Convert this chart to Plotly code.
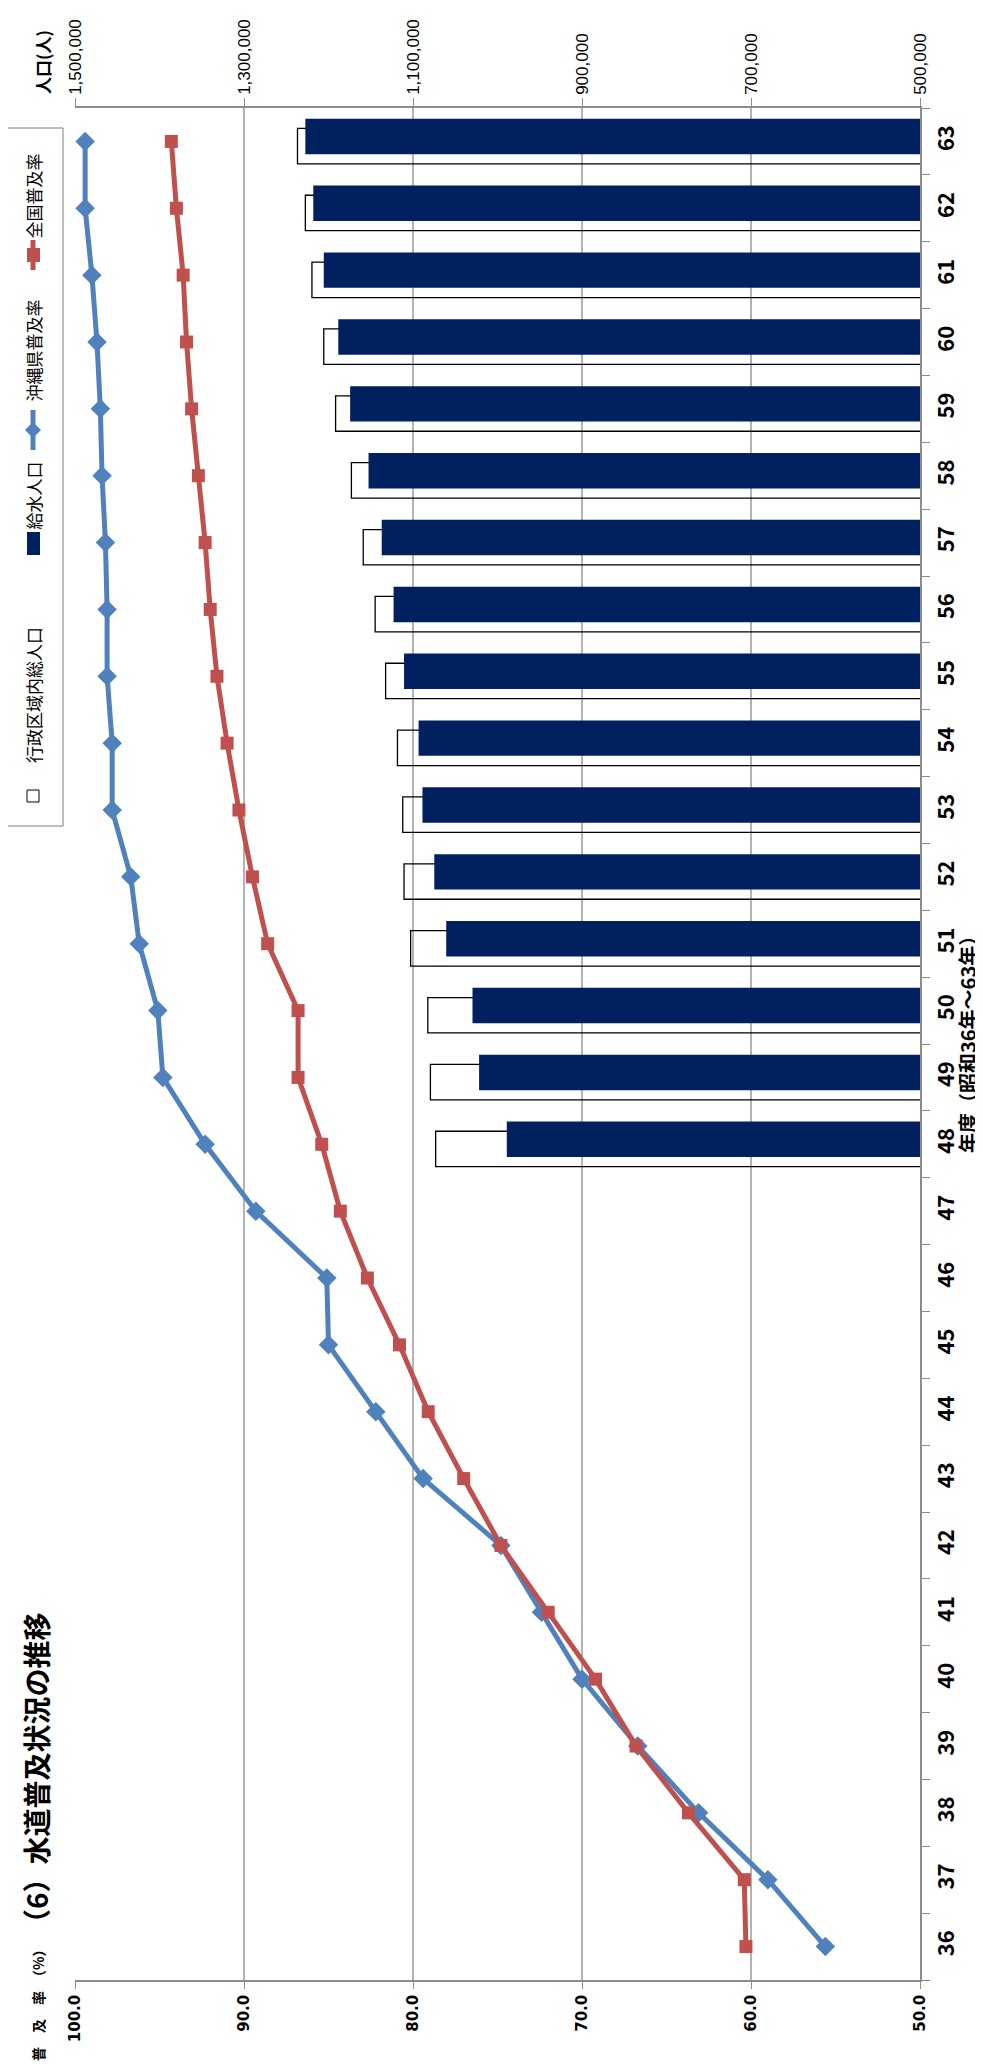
import plotly.graph_objects as go

# ---------------- data ----------------
years = list(range(36, 64))
okinawa_rate = [55.6, 59.0, 63.1, 66.7, 70.0, 72.4, 74.8, 79.4, 82.2, 85.0,
                85.1, 89.3, 92.3, 94.8, 95.1, 96.2, 96.7, 97.8, 97.8, 98.1,
                98.1, 98.2, 98.4, 98.5, 98.7, 99.0, 99.4, 99.4]
national_rate = [60.3, 60.4, 63.7, 66.8, 69.2, 72.0, 74.8, 77.0, 79.1, 80.8,
                 82.7, 84.3, 85.4, 86.8, 86.8, 88.6, 89.5, 90.3, 91.0, 91.6,
                 92.0, 92.3, 92.7, 93.1, 93.4, 93.6, 94.0, 94.3]
pop_years = list(range(48, 64))
served_pop = [989000, 1021800, 1029600, 1060700, 1074800, 1088800, 1093400,
              1110600, 1123000, 1137000, 1152600, 1174400, 1188400, 1205600,
              1218000, 1227400]
total_pop = [1073200, 1079400, 1082500, 1102800, 1110600, 1112100, 1118400,
             1132400, 1144800, 1158900, 1172900, 1191600, 1205600, 1219600,
             1227400, 1236700]
rate_ticks = [100, 90, 80, 70, 60, 50]
pop_ticks = [1500000, 1300000, 1100000, 900000, 700000, 500000]

title_text = "<b>（6）水道普及状況の推移</b>"
year_title = "<b>年度（昭和36年～63年）</b>"
pop_title = "<b>人口(人)</b>"
rate_title = "<b>普　及　率　（%）</b>"
legend_names = ["行政区域内総人口", "給水人口", "沖縄県普及率", "全国普及率"]

BLUE = "#4F81BD"
RED = "#C0504D"
NAVY = "#002060"
GRID = "#B3B3B3"
AXIS = "#8C8C8C"
JP = "Noto Sans CJK JP"

# page geometry (the html body has an 8px default margin)
BODY = 8
W_PX, H_PX = 983 - BODY, 2064 - BODY
# plot area in page pixels
L, R, T, B = 75, 920, 108, 1980


def px(x):
    return (x - L) / (R - L)


def py(y):
    return (B - y) / (B - T)


fig = go.Figure()

fig.add_trace(go.Bar(
    x=total_pop, y=pop_years, orientation="h", xaxis="x", yaxis="y",
    width=0.53, offset=-0.335,
    marker=dict(color="rgba(0,0,0,0)", line=dict(color="black", width=1.3)),
    name=legend_names[0]))
fig.add_trace(go.Bar(
    x=served_pop, y=pop_years, orientation="h", xaxis="x", yaxis="y",
    width=0.53, offset=-0.19,
    marker=dict(color=NAVY, line=dict(width=0)),
    name=legend_names[1]))
fig.add_trace(go.Scatter(
    x=okinawa_rate, y=years, xaxis="x2", yaxis="y", mode="lines+markers",
    line=dict(color=BLUE, width=5), marker=dict(symbol="diamond", size=15, color=BLUE),
    name=legend_names[2]))
fig.add_trace(go.Scatter(
    x=national_rate, y=years, xaxis="x2", yaxis="y", mode="lines+markers",
    line=dict(color=RED, width=5), marker=dict(symbol="square", size=13, color=RED),
    name=legend_names[3]))

fig.update_layout(
    width=W_PX, height=H_PX,
    margin=dict(l=L - BODY, r=W_PX - (R - BODY), t=T - BODY, b=H_PX - (B - BODY), pad=0),
    plot_bgcolor="white", paper_bgcolor="white",
    barmode="overlay", showlegend=False,
    xaxis=dict(
        side="top", range=[1500000, 500000], tickvals=pop_ticks, tickformat=",d",
        tickangle=-90, showgrid=False, zeroline=False, showline=True,
        linecolor=AXIS, linewidth=1.5, ticks="outside", ticklen=8, tickcolor=AXIS,
        tickfont=dict(family="Liberation Sans", size=17, color="black"),
        automargin=False),
    xaxis2=dict(
        overlaying="x", side="bottom", anchor="y", range=[100, 50],
        tickvals=rate_ticks, tickformat=".1f", tickangle=-90,
        showgrid=True, gridcolor=GRID, gridwidth=1.5, zeroline=False,
        showline=True, linecolor=AXIS, linewidth=1.5, ticks="outside", ticklen=7,
        tickcolor=AXIS,
        tickfont=dict(family="DejaVu Sans", size=15, color="black", weight="bold"),
        automargin=False),
    yaxis=dict(
        side="right", range=[35.5, 63.5], tickvals=years, tickformat="d",
        tickangle=-90, ticks="", showgrid=False, zeroline=False,
        showline=True, linecolor=AXIS, linewidth=1.5,
        minor=dict(tickvals=[y - 0.5 for y in years] + [years[-1] + 0.5],
                   ticks="outside", ticklen=8, tickcolor=AXIS, showgrid=False),
        ticklabelstandoff=6,
        tickfont=dict(family=JP, size=22, color="black", weight="bold"),
        automargin=False),
)

ann = []
ann.append(dict(text=title_text, x=px(36), y=py(1775), xref="paper", yref="paper",
                showarrow=False, textangle=-90, xanchor="center", yanchor="middle",
                font=dict(family=JP, size=28, color="black")))
ann.append(dict(text=year_title, x=px(967), y=py(1040), xref="paper", yref="paper",
                showarrow=False, textangle=-90, xanchor="center", yanchor="middle",
                font=dict(family=JP, size=20, color="black")))
ann.append(dict(text=pop_title, x=px(42), y=py(62), xref="paper", yref="paper",
                showarrow=False, textangle=-90, xanchor="center", yanchor="middle",
                font=dict(family=JP, size=17, color="black")))
ann.append(dict(text=rate_title, x=px(38), y=py(2002), xref="paper", yref="paper",
                showarrow=False, textangle=-90, xanchor="center", yanchor="middle",
                font=dict(family=JP, size=14, color="black")))

# legend (rotated, drawn manually)
legend_text_centers = [695, 495.5, 350.5, 196.5]
for name, yc in zip(legend_names, legend_text_centers):
    ann.append(dict(text=name, x=px(33), y=py(yc), xref="paper", yref="paper",
                    showarrow=False, textangle=-90, xanchor="center", yanchor="middle",
                    font=dict(family=JP, size=17, color="black")))
fig.update_layout(annotations=ann)

shapes = []
shapes.append(dict(type="rect", xref="paper", yref="paper", x0=px(6), x1=px(63),
                   y0=py(826), y1=py(128), line=dict(color="#7F7F7F", width=1),
                   fillcolor="rgba(0,0,0,0)"))
# total population key (hollow square)
shapes.append(dict(type="rect", xref="paper", yref="paper", x0=px(27), x1=px(39),
                   y0=py(802), y1=py(790), line=dict(color="black", width=1),
                   fillcolor="white"))
# served population key
shapes.append(dict(type="rect", xref="paper", yref="paper", x0=px(27), x1=px(40),
                   y0=py(555), y1=py(532), line=dict(width=0), fillcolor=NAVY))
# okinawa key
shapes.append(dict(type="line", xref="paper", yref="paper", x0=px(33), x1=px(33),
                   y0=py(450), y1=py(410), line=dict(color=BLUE, width=5)))
shapes.append(dict(type="path", xref="paper", yref="paper",
                   path="M {a},{b} L {c},{d} L {a},{e} L {f},{d} Z".format(
                       a=px(33), b=py(422), c=px(41), d=py(430), e=py(438), f=px(25)),
                   line=dict(width=0), fillcolor=BLUE))
# national key
shapes.append(dict(type="line", xref="paper", yref="paper", x0=px(33), x1=px(33),
                   y0=py(270), y1=py(240), line=dict(color=RED, width=5)))
shapes.append(dict(type="rect", xref="paper", yref="paper", x0=px(27), x1=px(40),
                   y0=py(262), y1=py(248), line=dict(width=0), fillcolor=RED))
fig.update_layout(shapes=shapes)

fig.write_html("out.html")
